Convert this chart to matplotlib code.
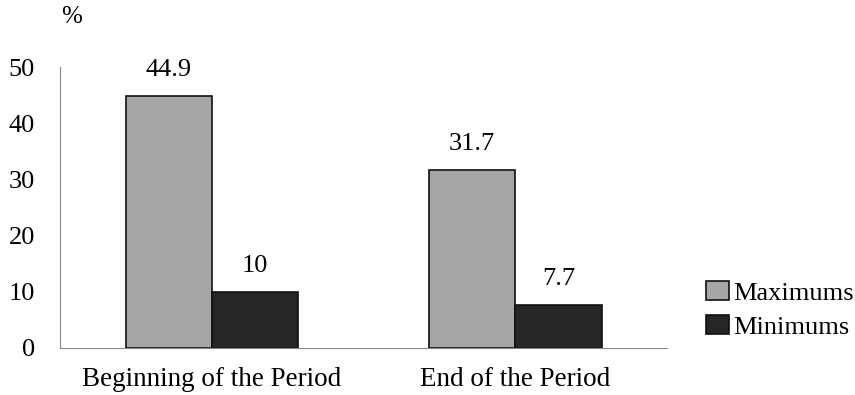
import matplotlib
matplotlib.use("Agg")
import matplotlib.pyplot as plt
import numpy as np

categories = ["Beginning of the Period", "End of the Period"]
maximums = [44.9, 31.7]
minimums = [10, 7.7]
yticks = [0, 10, 20, 30, 40, 50]

plt.rcParams['font.family'] = ['Liberation Serif', 'DejaVu Serif']

fig = plt.figure(figsize=(8.55, 3.95), dpi=100)
ax = fig.add_axes([0.0702, 0.119, 0.710, 0.711])

x = np.arange(len(categories))
w = 0.284
b1 = ax.bar(x - w/2, maximums, w, color='#a6a6a6', edgecolor='#111111', linewidth=1.2, label='Maximums')
b2 = ax.bar(x + w/2, minimums, w, color='#262626', edgecolor='#111111', linewidth=1.2, label='Minimums')

fs = 19
for rect, v in zip(b1, maximums):
    ax.text(rect.get_x() + rect.get_width()/2, v + 2.6, f"{v:g}", ha='center', va='bottom', fontsize=fs)
for rect, v in zip(b2, minimums):
    ax.text(rect.get_x() + rect.get_width()/2, v + 2.6, f"{v:g}", ha='center', va='bottom', fontsize=fs)

ax.set_xlim(-0.5, 1.5)
ax.set_ylim(0, 50)
ax.set_yticks(yticks)
ax.set_xticks(x)
ax.set_xticklabels(categories, fontsize=19.5)
ax.tick_params(axis='both', length=0)
ax.tick_params(axis='y', pad=18, labelsize=fs)
ax.tick_params(axis='x', pad=14)
for s in ['top', 'right']:
    ax.spines[s].set_visible(False)
ax.spines['left'].set_color('#888888')
ax.spines['bottom'].set_color('#888888')
ax.spines['left'].set_linewidth(0.8)
ax.spines['bottom'].set_linewidth(0.8)

fig.text(61/855, 1 - 17/395, '%', fontsize=18, ha='left', va='center')

leg = fig.legend(loc='center left', bbox_to_anchor=(706/855, 1 - 310/395), frameon=False,
                 fontsize=fs, handlelength=0.87, handleheight=0.72, handletextpad=0.15,
                 labelspacing=0.38, borderaxespad=0, borderpad=0)
for h in leg.legend_handles:
    h.set_edgecolor('#111111')

fig.savefig('out.png', dpi=100)
